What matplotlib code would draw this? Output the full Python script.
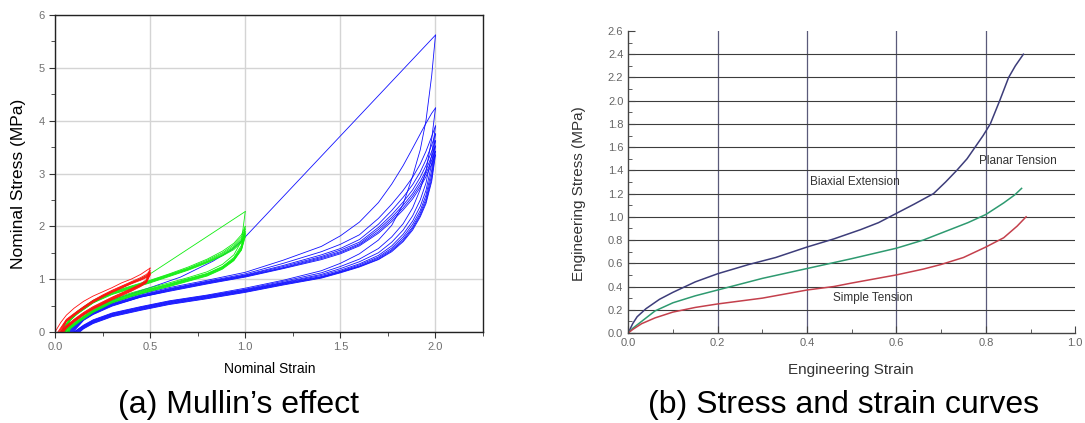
import matplotlib
matplotlib.use("Agg")
import matplotlib.pyplot as plt
from matplotlib.ticker import MultipleLocator

plt.rcParams['font.family'] = ['Liberation Sans', 'DejaVu Sans']

# ---------------- (a) Mullin's effect : cyclic loading at 3 strain levels ----------------
# red set, max strain 0.5
red_first = [(0.0, 0.0), (0.01, 0.06), (0.03, 0.18), (0.06, 0.32), (0.1, 0.45), (0.15, 0.58),
             (0.2, 0.68), (0.25, 0.76), (0.3, 0.84), (0.35, 0.93), (0.4, 1.0), (0.45, 1.09), (0.5, 1.21)]
red_strain = [0.06, 0.1, 0.15, 0.2, 0.25, 0.3, 0.35, 0.4, 0.45, 0.48, 0.5]
red_load_start = [0.015, 0.02, 0.025, 0.03, 0.035]
red_load = [
    [0.24, 0.35, 0.48, 0.60, 0.70, 0.79, 0.87, 0.95, 1.03, 1.09, 1.16],
    [0.23, 0.34, 0.47, 0.59, 0.69, 0.78, 0.86, 0.94, 1.01, 1.07, 1.13],
    [0.22, 0.33, 0.46, 0.58, 0.68, 0.77, 0.85, 0.93, 1.00, 1.05, 1.11],
    [0.21, 0.32, 0.45, 0.57, 0.67, 0.76, 0.84, 0.92, 0.99, 1.04, 1.09],
    [0.20, 0.31, 0.44, 0.56, 0.66, 0.75, 0.83, 0.91, 0.98, 1.03, 1.08],
]
red_unload_start = [0.03, 0.033, 0.036, 0.04, 0.043, 0.046]
red_unload = [
    [0.12, 0.24, 0.37, 0.48, 0.57, 0.66, 0.74, 0.82, 0.91, 0.99, 1.21],
    [0.11, 0.23, 0.36, 0.47, 0.56, 0.65, 0.73, 0.81, 0.90, 0.97, 1.16],
    [0.10, 0.22, 0.35, 0.46, 0.55, 0.64, 0.72, 0.80, 0.89, 0.96, 1.13],
    [0.09, 0.21, 0.34, 0.45, 0.54, 0.63, 0.71, 0.79, 0.88, 0.95, 1.11],
    [0.08, 0.20, 0.33, 0.44, 0.53, 0.62, 0.70, 0.78, 0.87, 0.94, 1.09],
    [0.07, 0.19, 0.32, 0.43, 0.52, 0.61, 0.69, 0.77, 0.86, 0.93, 1.08],
]

# green set, max strain 1.0
green_first = [(0.03, 0.0), (0.1, 0.3), (0.2, 0.55), (0.3, 0.75), (0.4, 0.92), (0.5, 1.1), (1.0, 2.28)]
green_strain = [0.08, 0.12, 0.2, 0.3, 0.4, 0.5, 0.6, 0.7, 0.8, 0.88, 0.94, 0.98, 1.0]
green_load_start = [0.03, 0.035, 0.04, 0.045, 0.05, 0.055]
green_load = [
    [0.27, 0.40, 0.60, 0.76, 0.87, 0.98, 1.10, 1.23, 1.38, 1.53, 1.68, 1.84, 2.00],
    [0.26, 0.39, 0.59, 0.75, 0.86, 0.97, 1.09, 1.21, 1.36, 1.50, 1.65, 1.80, 1.95],
    [0.25, 0.38, 0.58, 0.74, 0.85, 0.96, 1.08, 1.20, 1.34, 1.48, 1.62, 1.76, 1.90],
    [0.24, 0.37, 0.57, 0.73, 0.84, 0.95, 1.07, 1.19, 1.33, 1.46, 1.60, 1.73, 1.87],
    [0.23, 0.36, 0.56, 0.72, 0.83, 0.94, 1.06, 1.18, 1.32, 1.45, 1.58, 1.71, 1.84],
    [0.22, 0.35, 0.55, 0.71, 0.82, 0.93, 1.05, 1.17, 1.31, 1.44, 1.56, 1.69, 1.80],
]
green_unload_start = [0.045, 0.05, 0.055, 0.06, 0.065, 0.07, 0.075]
green_unload = [
    [0.12, 0.24, 0.44, 0.62, 0.74, 0.84, 0.93, 1.03, 1.14, 1.28, 1.46, 1.72, 2.28],
    [0.11, 0.22, 0.42, 0.60, 0.72, 0.82, 0.91, 1.01, 1.11, 1.24, 1.41, 1.64, 2.00],
    [0.10, 0.21, 0.41, 0.59, 0.71, 0.81, 0.90, 1.00, 1.10, 1.23, 1.39, 1.61, 1.95],
    [0.09, 0.20, 0.40, 0.58, 0.70, 0.80, 0.89, 0.99, 1.09, 1.22, 1.38, 1.59, 1.90],
    [0.08, 0.19, 0.39, 0.57, 0.69, 0.79, 0.88, 0.98, 1.08, 1.21, 1.37, 1.57, 1.87],
    [0.07, 0.18, 0.38, 0.56, 0.68, 0.78, 0.87, 0.97, 1.07, 1.20, 1.36, 1.56, 1.84],
    [0.06, 0.17, 0.37, 0.55, 0.67, 0.77, 0.86, 0.96, 1.06, 1.19, 1.35, 1.55, 1.80],
]

# blue set, max strain 2.0
blue_first = [(0.05, 0.0), (0.1, 0.22), (0.2, 0.45), (0.33, 0.64), (0.5, 0.84), (0.66, 1.04),
              (0.83, 1.34), (0.93, 1.56), (1.0, 1.8), (2.0, 5.62)]
blue_strain = [0.15, 0.2, 0.3, 0.45, 0.6, 0.8, 1.0, 1.2, 1.4, 1.5, 1.6, 1.7, 1.77, 1.83, 1.88, 1.92, 1.95, 1.98, 2.0]
blue_load_start = [0.065, 0.07, 0.075, 0.08, 0.085, 0.09, 0.095]
blue_load = [
    [0.28, 0.40, 0.56, 0.72, 0.84, 0.98, 1.13, 1.36, 1.62, 1.82, 2.08, 2.45, 2.80, 3.15, 3.48, 3.75, 3.95, 4.14, 4.24],
    [0.27, 0.38, 0.54, 0.70, 0.82, 0.96, 1.10, 1.30, 1.52, 1.66, 1.84, 2.15, 2.42, 2.68, 2.93, 3.18, 3.42, 3.70, 3.90],
    [0.26, 0.37, 0.53, 0.69, 0.81, 0.95, 1.08, 1.26, 1.46, 1.58, 1.75, 2.04, 2.30, 2.55, 2.79, 3.03, 3.26, 3.54, 3.75],
    [0.25, 0.36, 0.52, 0.68, 0.80, 0.94, 1.07, 1.24, 1.43, 1.55, 1.70, 1.98, 2.22, 2.46, 2.69, 2.93, 3.15, 3.42, 3.62],
    [0.24, 0.35, 0.51, 0.67, 0.79, 0.93, 1.06, 1.22, 1.41, 1.52, 1.67, 1.94, 2.17, 2.40, 2.62, 2.85, 3.06, 3.33, 3.52],
    [0.23, 0.34, 0.50, 0.66, 0.78, 0.92, 1.05, 1.21, 1.39, 1.50, 1.65, 1.90, 2.13, 2.35, 2.57, 2.79, 3.00, 3.25, 3.42],
    [0.22, 0.33, 0.49, 0.66, 0.77, 0.91, 1.04, 1.20, 1.37, 1.48, 1.63, 1.87, 2.09, 2.31, 2.52, 2.74, 2.94, 3.18, 3.35],
]
blue_unload_start = [0.1, 0.1, 0.105, 0.11, 0.115, 0.12, 0.125, 0.13]
blue_unload = [
    [0.13, 0.23, 0.36, 0.48, 0.59, 0.70, 0.83, 0.98, 1.16, 1.30, 1.48, 1.74, 2.02, 2.42, 2.95, 3.45, 4.00, 4.85, 5.62],
    [0.12, 0.22, 0.35, 0.47, 0.58, 0.69, 0.81, 0.96, 1.12, 1.24, 1.38, 1.58, 1.80, 2.05, 2.35, 2.70, 3.05, 3.65, 4.24],
    [0.11, 0.21, 0.34, 0.46, 0.57, 0.68, 0.80, 0.94, 1.09, 1.20, 1.33, 1.50, 1.70, 1.93, 2.20, 2.50, 2.82, 3.35, 3.90],
    [0.10, 0.20, 0.33, 0.45, 0.56, 0.67, 0.79, 0.93, 1.07, 1.17, 1.29, 1.45, 1.63, 1.85, 2.10, 2.38, 2.68, 3.18, 3.75],
    [0.09, 0.19, 0.32, 0.44, 0.55, 0.66, 0.78, 0.92, 1.05, 1.15, 1.27, 1.42, 1.59, 1.80, 2.04, 2.30, 2.59, 3.06, 3.62],
    [0.08, 0.18, 0.31, 0.43, 0.54, 0.65, 0.77, 0.91, 1.04, 1.14, 1.25, 1.40, 1.56, 1.76, 1.99, 2.25, 2.52, 2.97, 3.52],
    [0.07, 0.17, 0.30, 0.42, 0.53, 0.64, 0.76, 0.90, 1.03, 1.13, 1.24, 1.38, 1.54, 1.73, 1.96, 2.21, 2.47, 2.90, 3.42],
    [0.06, 0.16, 0.29, 0.41, 0.52, 0.63, 0.75, 0.89, 1.02, 1.12, 1.23, 1.37, 1.52, 1.71, 1.93, 2.18, 2.43, 2.85, 3.35],
]

# ---------------- (b) stress-strain curves ----------------
biaxial_strain = [0, 0.01, 0.02, 0.04, 0.07, 0.1, 0.15, 0.2, 0.27, 0.33, 0.4, 0.46, 0.52, 0.56, 0.6,
                  0.64, 0.683, 0.71, 0.735, 0.758, 0.776, 0.794, 0.81, 0.831, 0.851, 0.866, 0.884]
biaxial_stress = [0, 0.08, 0.14, 0.21, 0.29, 0.35, 0.44, 0.51, 0.59, 0.65, 0.74, 0.81, 0.89, 0.95, 1.03,
                  1.11, 1.2, 1.3, 1.4, 1.5, 1.6, 1.7, 1.8, 2.0, 2.2, 2.3, 2.4]
planar_strain = [0, 0.01, 0.03, 0.06, 0.1, 0.15, 0.2, 0.3, 0.4, 0.5, 0.6, 0.66, 0.72, 0.76, 0.8, 0.84, 0.865, 0.88]
planar_stress = [0, 0.04, 0.1, 0.19, 0.26, 0.32, 0.37, 0.47, 0.555, 0.64, 0.73, 0.8, 0.89, 0.95, 1.02, 1.12, 1.19, 1.245]
simple_strain = [0, 0.01, 0.03, 0.06, 0.1, 0.15, 0.2, 0.3, 0.4, 0.46, 0.5, 0.6, 0.66, 0.7, 0.75, 0.8, 0.84, 0.87, 0.89]
simple_stress = [0, 0.03, 0.08, 0.13, 0.18, 0.22, 0.25, 0.3, 0.37, 0.4, 0.43, 0.5, 0.55, 0.59, 0.65, 0.74, 0.82, 0.92, 1.0]

fig = plt.figure(figsize=(10.85, 4.23), dpi=100)

# ---- left panel
ax1 = fig.add_axes([0.0507, 0.2151, 0.3945, 0.7494])


def draw_set(ax, first, strain, load_start, load, unload_start, unload, color):
    ax.plot([p[0] for p in first], [p[1] for p in first], color=color, lw=0.6)
    for s0, row in zip(load_start, load):
        ax.plot([s0] + strain, [0] + row, color=color, lw=0.6)
    for s0, row in zip(unload_start, unload):
        ax.plot([s0] + strain, [0] + row, color=color, lw=0.6)


draw_set(ax1, blue_first, blue_strain, blue_load_start, blue_load, blue_unload_start, blue_unload, '#1010ff')
draw_set(ax1, green_first, green_strain, green_load_start, green_load, green_unload_start, green_unload, '#10ee10')
draw_set(ax1, red_first, red_strain, red_load_start, red_load, red_unload_start, red_unload, '#ff1010')

ax1.set_xlim(0, 2.25)
ax1.set_ylim(0, 6)
ax1.xaxis.set_major_locator(MultipleLocator(0.5))
ax1.xaxis.set_minor_locator(MultipleLocator(0.25))
ax1.yaxis.set_major_locator(MultipleLocator(1))
ax1.yaxis.set_minor_locator(MultipleLocator(0.5))
ax1.set_xticks([0, 0.5, 1.0, 1.5, 2.0])
ax1.set_xticklabels(['0.0', '0.5', '1.0', '1.5', '2.0'])
ax1.grid(True, which='major', color='#d4d4d4', lw=1.0)
ax1.set_axisbelow(True)
ax1.tick_params(which='both', direction='out', colors='#333333', labelcolor='#707070', labelsize=8)
ax1.tick_params(which='major', length=4)
ax1.tick_params(which='minor', length=3)
for sp in ax1.spines.values():
    sp.set_color('#222222')
    sp.set_linewidth(1.0)

fig.text(18 / 1085, 1 - 184 / 423, 'Nominal Stress (MPa)', rotation=90, ha='center', va='center', fontsize=12.5)
fig.text(270 / 1085, 1 - 369 / 423, 'Nominal Strain', ha='center', va='center', fontsize=10)

# ---- right panel
ax2 = fig.add_axes([0.579, 0.2128, 0.412, 0.7139])
ax2.set_xlim(0, 1.0)
ax2.set_ylim(0, 2.6)
for x in [0.2, 0.4, 0.6, 0.8]:
    ax2.axvline(x, color='#5a5a7a', lw=0.9, zorder=0)
for y in [0.2, 0.4, 0.6, 0.8, 1.0, 1.2, 1.4, 1.6, 1.8, 2.0, 2.2, 2.4]:
    ax2.axhline(y, color='#3c3c3c', lw=0.8, zorder=0)

ax2.plot(biaxial_strain, biaxial_stress, color='#3d3d7a', lw=1.1)
ax2.plot(planar_strain, planar_stress, color='#2e9a70', lw=1.1)
ax2.plot(simple_strain, simple_stress, color='#c4404c', lw=1.1)

ax2.text(0.407, 1.30, 'Biaxial Extension', fontsize=8.5, color='#333333', va='center')
ax2.text(0.784, 1.48, 'Planar Tension', fontsize=8.5, color='#333333', va='center')
ax2.text(0.459, 0.30, 'Simple Tension', fontsize=8.5, color='#333333', va='center')

ax2.xaxis.set_major_locator(MultipleLocator(0.2))
ax2.xaxis.set_minor_locator(MultipleLocator(0.1))
ax2.yaxis.set_major_locator(MultipleLocator(0.2))
ax2.yaxis.set_minor_locator(MultipleLocator(0.1))
ax2.xaxis.set_major_formatter(lambda v, p: f'{v:.1f}')
ax2.yaxis.set_major_formatter(lambda v, p: f'{v:.1f}')
ax2.tick_params(which='both', direction='in', colors='#444444', labelcolor='#666666', labelsize=8)
ax2.tick_params(which='major', length=5)
ax2.tick_params(which='minor', length=3)
ax2.spines['top'].set_visible(False)
ax2.spines['right'].set_visible(False)
for sp in ['left', 'bottom']:
    ax2.spines[sp].set_color('#444444')
    ax2.spines[sp].set_linewidth(1.0)

fig.text(579 / 1085, 1 - 194 / 423, 'Engineering Stress (MPa)', rotation=90, ha='center', va='center',
         fontsize=11, color='#333333')
fig.text(851 / 1085, 1 - 370 / 423, 'Engineering Strain', ha='center', va='center', fontsize=11, color='#333333')

# ---- captions
fig.text(238 / 1085, 1 - 405 / 423, '(a) Mullin\u2019s effect', ha='center', va='center', fontsize=23)
fig.text(844 / 1085, 1 - 405 / 423, '(b) Stress and strain curves', ha='center', va='center', fontsize=23)

fig.savefig('out.png', dpi=100)
